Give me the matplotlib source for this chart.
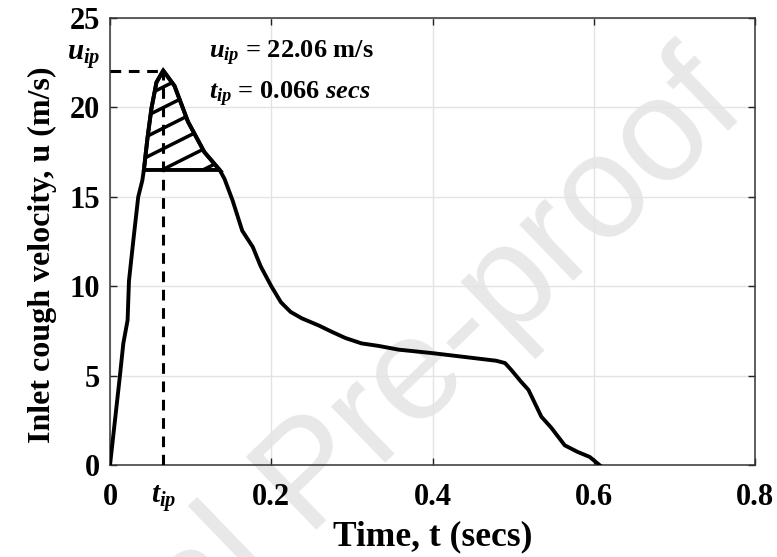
import numpy as np
import matplotlib
matplotlib.use('Agg')
import matplotlib.pyplot as plt
from matplotlib.patches import Polygon

plt.rcParams['font.family'] = 'Liberation Serif'
plt.rcParams['font.weight'] = 'bold'
plt.rcParams['mathtext.fontset'] = 'custom'
plt.rcParams['mathtext.rm'] = 'Liberation Serif:bold'
plt.rcParams['mathtext.it'] = 'Liberation Serif:bold:italic'
plt.rcParams['mathtext.bf'] = 'Liberation Serif:bold'

# cough velocity profile
t = [0, 0.0123, 0.0165, 0.0218, 0.0235, 0.029, 0.035, 0.040, 0.042, 0.0465,
     0.0514, 0.0576, 0.066, 0.080, 0.0967, 0.117, 0.136, 0.142, 0.152, 0.164,
     0.177, 0.187, 0.200, 0.212, 0.224, 0.238, 0.259, 0.275, 0.292, 0.312,
     0.333, 0.358, 0.399, 0.440, 0.479, 0.490, 0.498, 0.510, 0.519, 0.527,
     0.535, 0.547, 0.564, 0.580, 0.595, 0.607]
u = [0, 5.0, 6.8, 8.1, 10.3, 12.6, 15.0, 15.9, 16.5, 18.3,
     19.95, 21.4, 22.06, 21.2, 19.2, 17.5, 16.5, 16.0, 14.8, 13.1,
     12.2, 11.1, 10.0, 9.1, 8.56, 8.2, 7.8, 7.45, 7.1, 6.8,
     6.66, 6.45, 6.26, 6.04, 5.83, 5.7, 5.3, 4.65, 4.2, 3.45,
     2.7, 2.1, 1.1, 0.73, 0.45, 0.0]

t_ip = 0.066
u_ip = 22.06
u_base = 16.5   # lower edge of hatched area

xticks = [0, 0.2, 0.4, 0.6, 0.8]
yticks = [0, 5, 10, 15, 20, 25]

fig = plt.figure(figsize=(7.77, 5.57), dpi=100)
ax = fig.add_axes([0.1416, 0.1652, 0.8301, 0.8025])
ax.patch.set_alpha(0)
ax.set_zorder(2)

# watermark
fig.text(0.965, 0.80, 'Journal Pre-proof', family='Liberation Sans', weight='normal',
         fontsize=106, color='#e8e8e8', rotation=44, rotation_mode='anchor',
         ha='right', va='baseline', zorder=0)

ax.plot(t, u, color='k', lw=2.8, zorder=4)

# peak markers
ax.plot([0, t_ip], [u_ip, u_ip], color='k', lw=2.2, dashes=(3.5, 2.5), zorder=3)
ax.plot([t_ip, t_ip], [0, u_ip], color='k', lw=2.2, dashes=(3.5, 2.5), zorder=3)

# hatched region above u_base
ta = np.array(t); ua = np.array(u)
sel = ua >= u_base
i0, i1 = np.where(sel)[0][[0, -1]]
poly = np.column_stack([ta[i0:i1 + 1], ua[i0:i1 + 1]])
patch = Polygon(poly, closed=True, facecolor='none', edgecolor='k', lw=2.8, zorder=4)
ax.add_patch(patch)
for c in np.arange(u_base - 4, u_ip + 1, 1.15):
    xs = np.array([0.0, 0.2])
    ln, = ax.plot(xs, c + 22.6 * (xs - 0.04), color='k', lw=2.5, zorder=4)
    ln.set_clip_path(patch)

ax.text(0.123, 22.75, r'$u_{ip}$ = 22.06 m/s', fontsize=19, fontweight='bold')
ax.text(0.123, 20.45, r'$t_{ip}$ = 0.066 $secs$', fontsize=19, fontweight='bold')

ax.set_xlim(0, 0.8)
ax.set_ylim(0, 25)
ax.set_xticks(xticks)
ax.set_xticklabels(['0', '0.2', '0.4', '0.6', '0.8'])
ax.set_yticks(yticks)
ax.set_xticks([t_ip], labels=[r'$t_{ip}$'], minor=True)
ax.set_yticks([u_ip], labels=[r'$u_{ip}$'], minor=True)
for lbl in ax.get_yticklabels(minor=True):
    lbl.set_va('bottom')

ax.grid(True, which='major', color='#e3e3e3', lw=1.0)
ax.set_axisbelow(True)
ax.tick_params(which='major', direction='in', length=5, width=1, top=True, right=True,
               labelsize=22, colors='#222222', labelcolor='k')
ax.tick_params(axis='x', which='both', pad=13)
ax.tick_params(axis='y', which='both', pad=7)
ax.tick_params(which='minor', length=0, labelsize=21)
for s in ax.spines.values():
    s.set_color('#333333')
    s.set_linewidth(1.1)

ax.set_xlabel('Time, t (secs)', fontsize=25.5, fontweight='bold')
ax.set_ylabel('Inlet cough velocity, u (m/s)', fontsize=23, fontweight='bold')
ax.xaxis.set_label_coords(0.5, -0.123, transform=ax.transAxes)
ax.yaxis.set_label_coords(-0.105, 0.47)
ax.xaxis.label.set_va('top')
ax.yaxis.label.set_va('center')

fig.savefig('out.png', dpi=100)
